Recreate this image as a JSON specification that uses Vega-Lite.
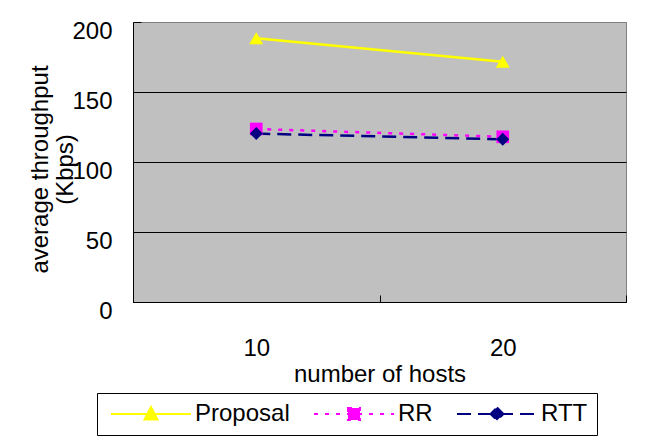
{
  "$schema": "https://vega.github.io/schema/vega-lite/v6.json",
  "width": 493,
  "height": 280,
  "autosize": {"type": "none"},
  "padding": {"left": 133, "top": 22, "right": 21, "bottom": 144},
  "background": "white",
  "config": {
    "font": "Liberation Sans",
    "view": {"fill": "#C0C0C0", "stroke": "#808080", "strokeWidth": 1},
    "legend": {
      "orient": "none",
      "direction": "horizontal",
      "legendX": -36,
      "legendY": 371,
      "padding": 9,
      "strokeColor": "black",
      "fillColor": "white",
      "symbolSize": 400,
      "symbolStrokeWidth": 2,
      "symbolOpacity": 1,
      "symbolOffset": 33,
      "labelOffset": 32,
      "columnPadding": 19,
      "labelFontSize": 24,
      "labelColor": "black",
      "labelLimit": 300
    }
  },
  "data": {
    "values": [
      {"hosts": "10", "series": "Proposal", "value": 188.4},
      {"hosts": "20", "series": "Proposal", "value": 171.6},
      {"hosts": "10", "series": "RR", "value": 123.6},
      {"hosts": "20", "series": "RR", "value": 118},
      {"hosts": "10", "series": "RTT", "value": 120.3},
      {"hosts": "20", "series": "RTT", "value": 116.2}
    ]
  },
  "encoding": {
    "x": {
      "field": "hosts",
      "type": "ordinal",
      "scale": {"type": "band", "paddingInner": 0, "paddingOuter": 0},
      "axis": {
        "title": "number of hosts",
        "labelAngle": 0,
        "labelFontSize": 24,
        "labelColor": "black",
        "labelBaseline": "alphabetic",
        "labelPadding": 60,
        "tickBand": "extent",
        "tickSize": -7,
        "tickColor": "black",
        "domainColor": "black",
        "grid": false,
        "titleFontSize": 24,
        "titleFontWeight": "normal",
        "titleColor": "black",
        "titleBaseline": "alphabetic",
        "titleY": 79
      }
    },
    "y": {
      "field": "value",
      "type": "quantitative",
      "scale": {"domain": [0, 200], "nice": false},
      "axis": {
        "title": ["average throughput", "(Kbps)"],
        "values": [0, 50, 100, 150, 200],
        "labelFontSize": 24,
        "labelColor": "black",
        "labelBaseline": "alphabetic",
        "labelOffset": 16,
        "labelPadding": 29,
        "labelOverlap": false,
        "labelFlush": false,
        "tickSize": -8,
        "tickColor": "black",
        "domainColor": "black",
        "grid": true,
        "gridColor": {"condition": {"test": "datum.value === 200", "value": "#808080"}, "value": "black"},
        "gridOpacity": 1,
        "titleFontSize": 24,
        "titleFontWeight": "normal",
        "titleColor": "black",
        "titleAngle": 270,
        "titleBaseline": "alphabetic",
        "titleAlign": "center",
        "titleLineHeight": 25,
        "titleX": -86,
        "titleY": 147
      }
    }
  },
  "layer": [
    {
      "transform": [{"filter": "datum.series === 'Proposal'"}],
      "mark": {"type": "line", "strokeWidth": 2.5, "color": "#FFFF00"}
    },
    {
      "transform": [{"filter": "datum.series === 'RR'"}],
      "mark": {"type": "line", "strokeWidth": 2.5, "color": "#FF00FF", "strokeDash": [4, 7]}
    },
    {
      "transform": [{"filter": "datum.series === 'RTT'"}],
      "mark": {"type": "line", "strokeWidth": 2.5, "color": "#000080", "strokeDash": [14, 7]}
    },
    {
      "transform": [{"filter": "datum.series === 'Proposal'"}],
      "mark": {"type": "point", "filled": true, "opacity": 1, "color": "#FFFF00", "shape": "triangle-up", "size": 196}
    },
    {
      "transform": [{"filter": "datum.series === 'RR'"}],
      "mark": {"type": "point", "filled": true, "opacity": 1, "color": "#FF00FF", "shape": "square", "size": 160}
    },
    {
      "transform": [{"filter": "datum.series === 'RTT'"}],
      "mark": {"type": "point", "filled": true, "opacity": 1, "color": "#000080", "shape": "diamond", "size": 170}
    },
    {
      "transform": [{"filter": "false"}],
      "mark": {"type": "point", "filled": true},
      "encoding": {
        "fill": {
          "field": "series",
          "type": "nominal",
          "scale": {"domain": ["Proposal", "RR", "RTT"], "range": ["#FFFF00", "#FF00FF", "#000080"]},
          "legend": {"title": null}
        },
        "stroke": {
          "field": "series",
          "type": "nominal",
          "scale": {"domain": ["Proposal", "RR", "RTT"], "range": ["#FFFF00", "#FF00FF", "#000080"]},
          "legend": {"title": null}
        },
        "shape": {
          "field": "series",
          "type": "nominal",
          "scale": {
            "domain": ["Proposal", "RR", "RTT"],
            "range": [
              "M-4,0H4M0,-0.7L0.65,0.55L-0.65,0.55Z",
              "M-4,0H4M-0.6,-0.6H0.6V0.6H-0.6Z",
              "M-4,0H4M0,-0.65L0.65,0L0,0.65L-0.65,0Z"
            ]
          },
          "legend": {"title": null}
        },
        "strokeDash": {
          "field": "series",
          "type": "nominal",
          "scale": {"domain": ["Proposal", "RR", "RTT"], "range": [[1, 0], [4, 7], [14, 7]]},
          "legend": {"title": null}
        }
      }
    }
  ]
}
